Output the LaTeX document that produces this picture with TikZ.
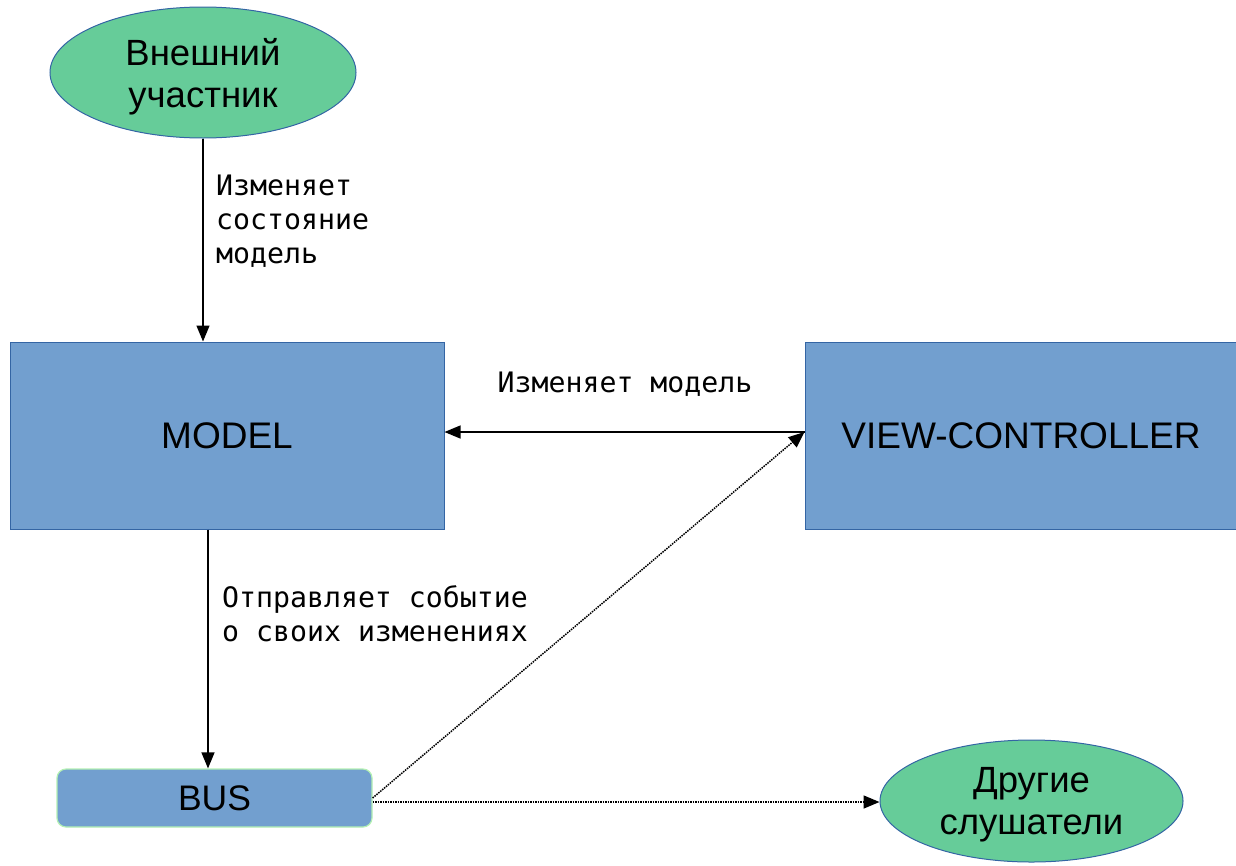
\documentclass[tikz,border=0pt]{standalone}
\usepackage{fontspec}
\setmainfont{Liberation Sans}
\newfontfamily\monof{DejaVu Sans Mono}
\usetikzlibrary{arrows.meta,shapes.geometric}
\definecolor{boxblue}{HTML}{729FCF}
\definecolor{edgeblue}{HTML}{3465A4}
\definecolor{ellgreen}{HTML}{66CC99}
\definecolor{busedge}{HTML}{B3F0B3}
\tikzset{
  bluebox/.style={draw=edgeblue, line width=1pt, fill=boxblue, inner sep=0pt, font=\fontsize{37}{41}\selectfont},
  greenell/.style={ellipse, draw=edgeblue, line width=1pt, fill=ellgreen, inner sep=0pt, align=center, text depth=-3pt, font=\fontsize{36.5}{42}\selectfont},
  busbox/.style={draw=busedge, line width=1.2pt, fill=boxblue, rounded corners=9pt, inner sep=0pt, font=\fontsize{35.5}{38}\selectfont},
  arr/.style={line width=1.3pt, -{Triangle[length=16pt,width=13pt]}},
  dotarr/.style={line width=1.5pt, densely dotted, -{Triangle[length=16pt,width=13pt]}},
  lbl/.style={inner sep=0pt, align=left, font=\monof\fontsize{28.2}{34}\selectfont}
}
\begin{document}
\begin{tikzpicture}[x=1pt,y=-1pt]
\useasboundingbox (0,0) rectangle (1236,865);
\node[greenell, minimum width=306pt, minimum height=131pt] (ext) at (203,72.5) {Внешний\\участник};
\node[bluebox, minimum width=434pt, minimum height=187pt] (model) at (227,435.5) {MODEL};
\node[bluebox, minimum width=432pt, minimum height=187pt] (vc) at (1021,435.5) {VIEW-CONTROLLER};
\node[busbox, minimum width=315pt, minimum height=58pt] (bus) at (214.5,798) {BUS};
\node[greenell, minimum width=303pt, minimum height=122pt] (other) at (1031.5,801) {Другие\\слушатели};
\coordinate (cx2) at (208,0);
\coordinate (cy1) at (0,432);
\coordinate (cy2) at (0,802);
\draw[arr] (ext.south) -- (ext.south |- model.north);
\draw[arr] (model.south -| cx2) -- (bus.north -| cx2);
\draw[arr] (vc.west |- cy1) -- (model.east |- cy1);
\draw[dotarr] (bus.east) -- (vc.west |- cy1);
\draw[dotarr] (bus.east |- cy2) -- (other.west |- cy2);
\node[lbl, anchor=west] (l1) at (216,221) {Изменяет\\состояние\\модель};
\node[lbl, anchor=west] (l2) at (222,613.5) {Отправляет событие\\о своих изменениях};
\node[lbl] (l3) at (625,384) {Изменяет модель};
\end{tikzpicture}
\end{document}
